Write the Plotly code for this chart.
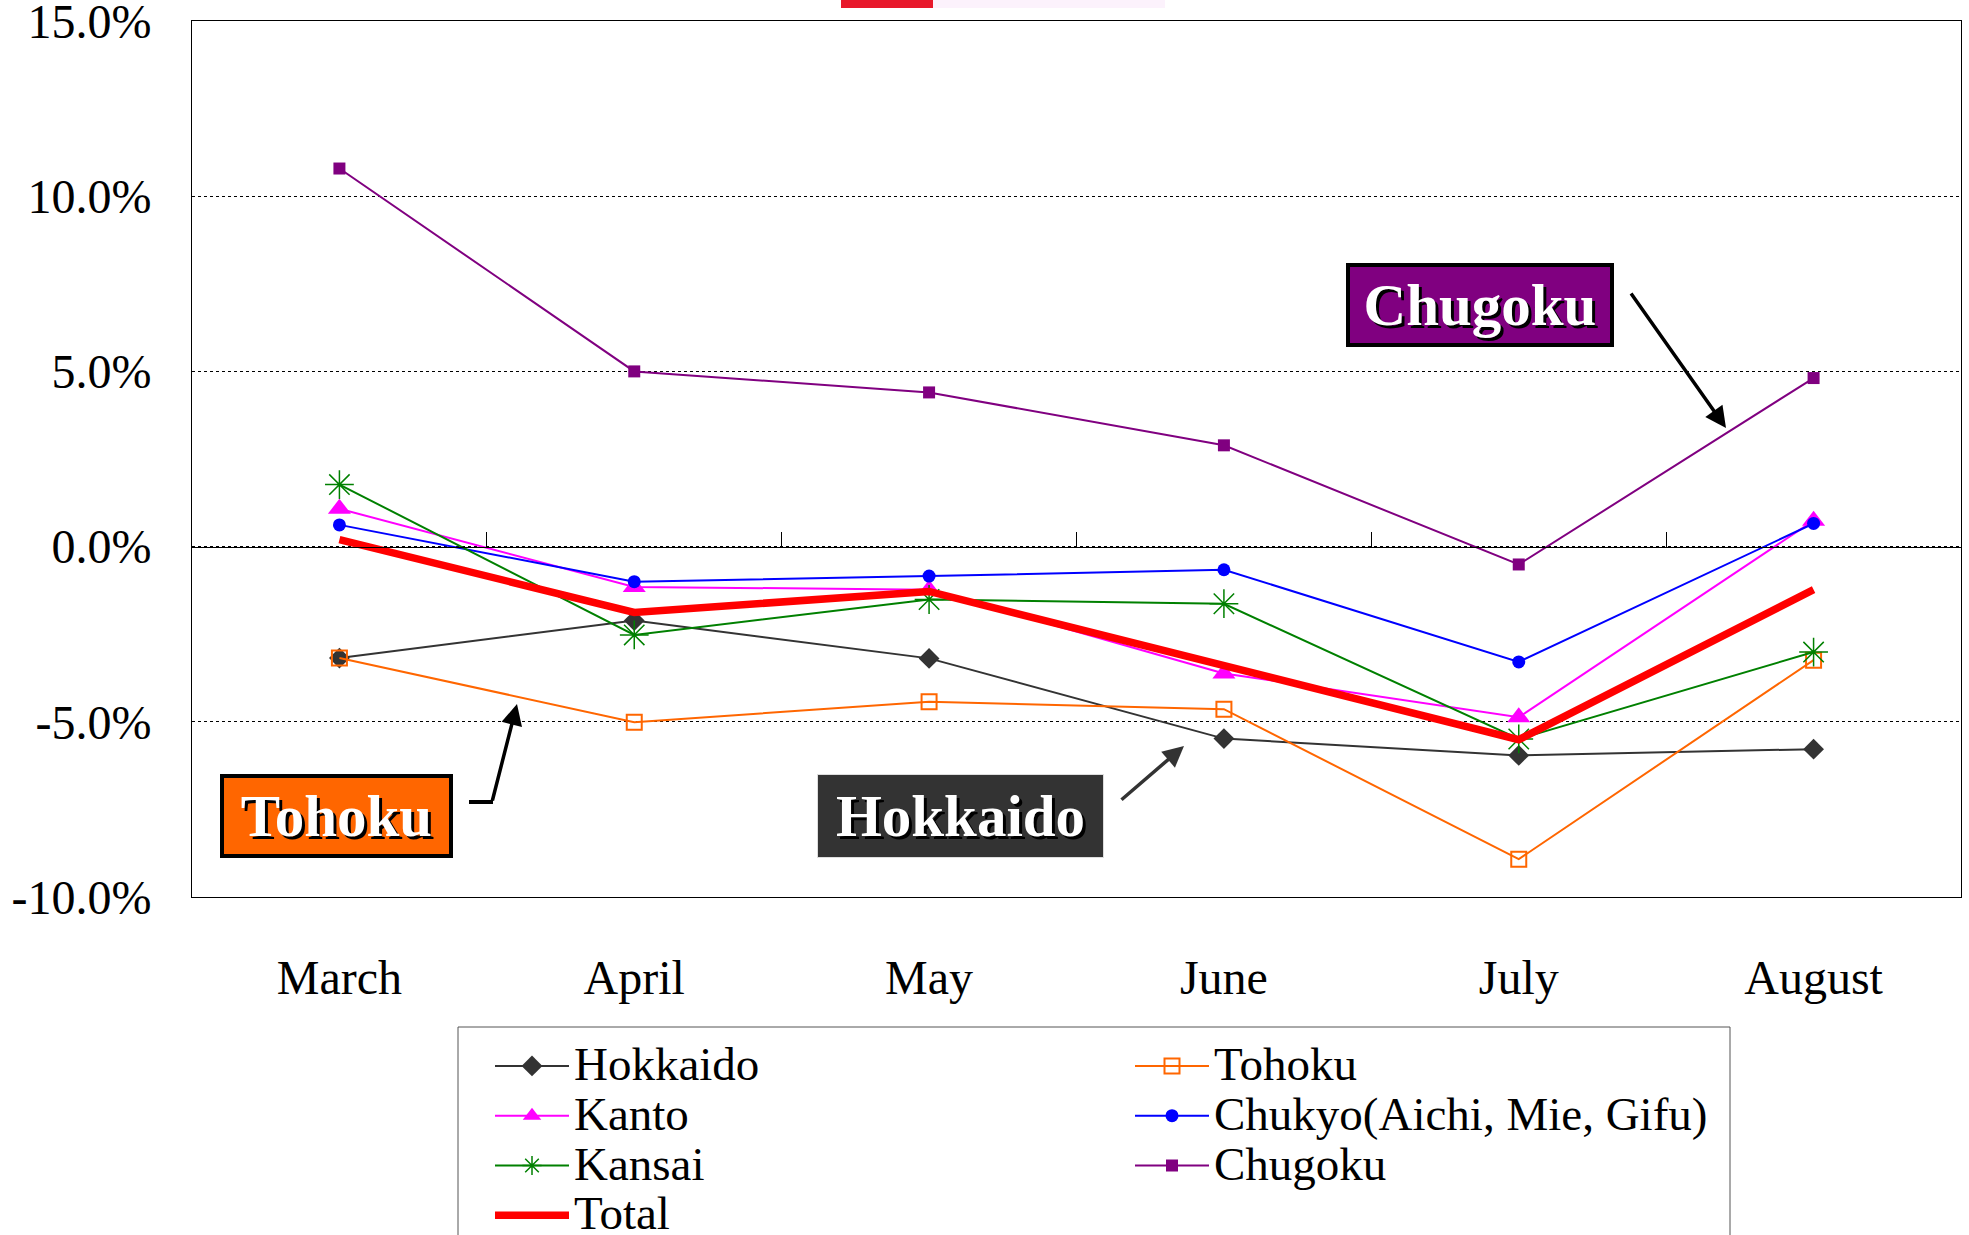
import plotly.graph_objects as go

months = ["March", "April", "May", "June", "July", "August"]

hokkaido = [-3.18, -2.11, -3.19, -5.48, -5.96, -5.78]
tohoku = [-3.18, -5.01, -4.43, -4.64, -8.92, -3.24]
kanto = [1.08, -1.15, -1.23, -3.62, -4.87, 0.74]
chukyo = [0.62, -1.00, -0.84, -0.66, -3.29, 0.66]
kansai = [1.77, -2.52, -1.51, -1.63, -5.49, -3.01]
chugoku = [10.79, 5.00, 4.40, 2.89, -0.51, 4.81]
total = [0.20, -1.88, -1.28, -3.40, -5.51, -1.23]

ytick_vals = [15, 10, 5, 0, -5, -10]
ytick_text = ["15.0%", "10.0%", "5.0%", "0.0%", "-5.0%", "-10.0%"]
boundaries = [0.5, 1.5, 2.5, 3.5, 4.5]

FONT = "Liberation Serif, Times New Roman, serif"
W, H = 1969, 1235
L, R, T, B = 192, 8, 21, 338
pw, ph = W - L - R, H - T - B


def px(x):
    return (x - L) / pw


def py(y):
    return (H - B - y) / ph


def leg(name):
    return '<span style="font-size:47px">%s</span>' % name


xs = list(range(len(months)))

series = [
    ("Hokkaido", hokkaido, "#333333", 2, dict(symbol="diamond", size=16, color="#333333")),
    ("Tohoku", tohoku, "#FF6600", 2, dict(symbol="square-open", size=15, color="#FF6600", line=dict(width=2, color="#FF6600"))),
    ("Kanto", kanto, "#FF00FF", 2, dict(symbol="triangle-up", size=20, color="#FF00FF")),
    ("Chukyo(Aichi, Mie, Gifu)", chukyo, "#0000FF", 2, dict(symbol="circle", size=13, color="#0000FF")),
    ("Kansai", kansai, "#008000", 2, dict(symbol="asterisk-open", size=24, color="#008000", line=dict(width=1.5, color="#008000"))),
    ("Chugoku", chugoku, "#800080", 2, dict(symbol="square", size=12, color="#800080")),
]

fig = go.Figure()
for name, vals, col, lw, mk in series:
    fig.add_trace(go.Scatter(x=xs, y=vals, name=leg(name), mode="lines+markers",
                             line=dict(color=col, width=lw), marker=mk))
fig.add_trace(go.Scatter(x=xs, y=total, name=leg("Total"), mode="lines",
                         line=dict(color="#FF0000", width=7.5)))

# invisible trace for the zero-crossing tick axis
fig.add_trace(go.Scatter(x=[-0.5, 5.5], y=[0, 0], xaxis="x2", mode="lines",
                         line=dict(width=0), showlegend=False, hoverinfo="skip"))

fig.update_layout(
    width=W, height=H,
    margin=dict(l=L, r=R, t=T, b=B, autoexpand=False),
    paper_bgcolor="white", plot_bgcolor="white",
    font=dict(family=FONT, size=47, color="black"),
    showlegend=True,
    xaxis=dict(range=[-0.5, 5.5], tickvals=xs, ticktext=months, showgrid=False,
               zeroline=False, showline=True, linecolor="black", linewidth=1,
               mirror=True, ticks="", ticklabelstandoff=38,
               tickfont=dict(family=FONT, size=48)),
    xaxis2=dict(range=[-0.5, 5.5], overlaying="x", anchor="free", position=0.4,
                side="bottom", tickvals=boundaries, showticklabels=False,
                ticks="inside", ticklen=15, tickcolor="black", tickwidth=1,
                showgrid=False, zeroline=False, showline=True, linecolor="black",
                linewidth=1),
    yaxis=dict(range=[-10, 15], tickvals=ytick_vals, ticktext=ytick_text,
               showgrid=True, gridcolor="black", griddash="dot", gridwidth=1,
               zeroline=False, showline=True, linecolor="black", linewidth=1,
               mirror=True, ticks="", ticklabelstandoff=30, ticklabeloverflow="allow",
               tickfont=dict(family=FONT, size=48)),
    legend=dict(orientation="h", x=px(490), y=py(1036), xanchor="left", yanchor="top",
                bgcolor="rgba(0,0,0,0)", borderwidth=0,
                font=dict(family=FONT, size=36), entrywidth=551, entrywidthmode="pixels",
                itemwidth=74, traceorder="normal"),
)

# legend frame
fig.add_shape(type="rect", xref="paper", yref="paper", x0=px(458), x1=px(1730),
              y0=py(1245), y1=py(1027), line=dict(color="#555555", width=1),
              fillcolor="rgba(0,0,0,0)", layer="below")

# clipped header artefact at top
fig.add_shape(type="rect", xref="paper", yref="paper", x0=px(841), x1=px(933),
              y0=py(8), y1=py(-2), fillcolor="#E8182B", line=dict(width=0), layer="above")
fig.add_shape(type="rect", xref="paper", yref="paper", x0=px(933), x1=px(1165),
              y0=py(8), y1=py(-2), fillcolor="#FCF2FC", line=dict(width=0), layer="above")

shadow = "3px 3px 0px black"
boxes = [
    ("Chugoku", 1346, 1614, 263, 347, "#800080", "black", 4),
    ("Tohoku", 220, 453, 774, 858, "#FF6600", "black", 4),
    ("Hokkaido", 817, 1104, 774, 858, "#333333", "#DDDDDD", 1),
]
for txt, x0, x1, y0, y1, bg, bc, bw in boxes:
    fig.add_annotation(x=px((x0 + x1) / 2), y=py((y0 + y1) / 2), xref="paper", yref="paper",
                       text="<b>%s</b>" % txt, showarrow=False, xanchor="center", yanchor="middle",
                       width=x1 - x0 - 2 * bw, height=y1 - y0 - 2 * bw, borderpad=0,
                       bgcolor=bg, bordercolor=bc, borderwidth=bw,
                       font=dict(family=FONT, size=59, color="white", shadow=shadow))

arrows = [
    (1726, 428, 1630, 292, "black"),
    (517, 704, 492, 802, "black"),
    (1184, 746, 1120, 801, "#333333"),
]
for hx, hy, tx, ty, col in arrows:
    fig.add_annotation(x=px(hx), y=py(hy), xref="paper", yref="paper", text="",
                       showarrow=True, ax=tx - hx, ay=ty - hy, arrowhead=2,
                       arrowsize=1.2, arrowwidth=3.5, arrowcolor=col, standoff=0)

# elbow piece of the Tohoku connector
fig.add_shape(type="line", xref="paper", yref="paper", x0=px(469), x1=px(493),
              y0=py(802), y1=py(802), line=dict(color="black", width=4))

fig.write_html("out.html", config={"displayModeBar": False},
               post_script="document.body.style.margin='0';document.body.style.overflow='hidden';")
